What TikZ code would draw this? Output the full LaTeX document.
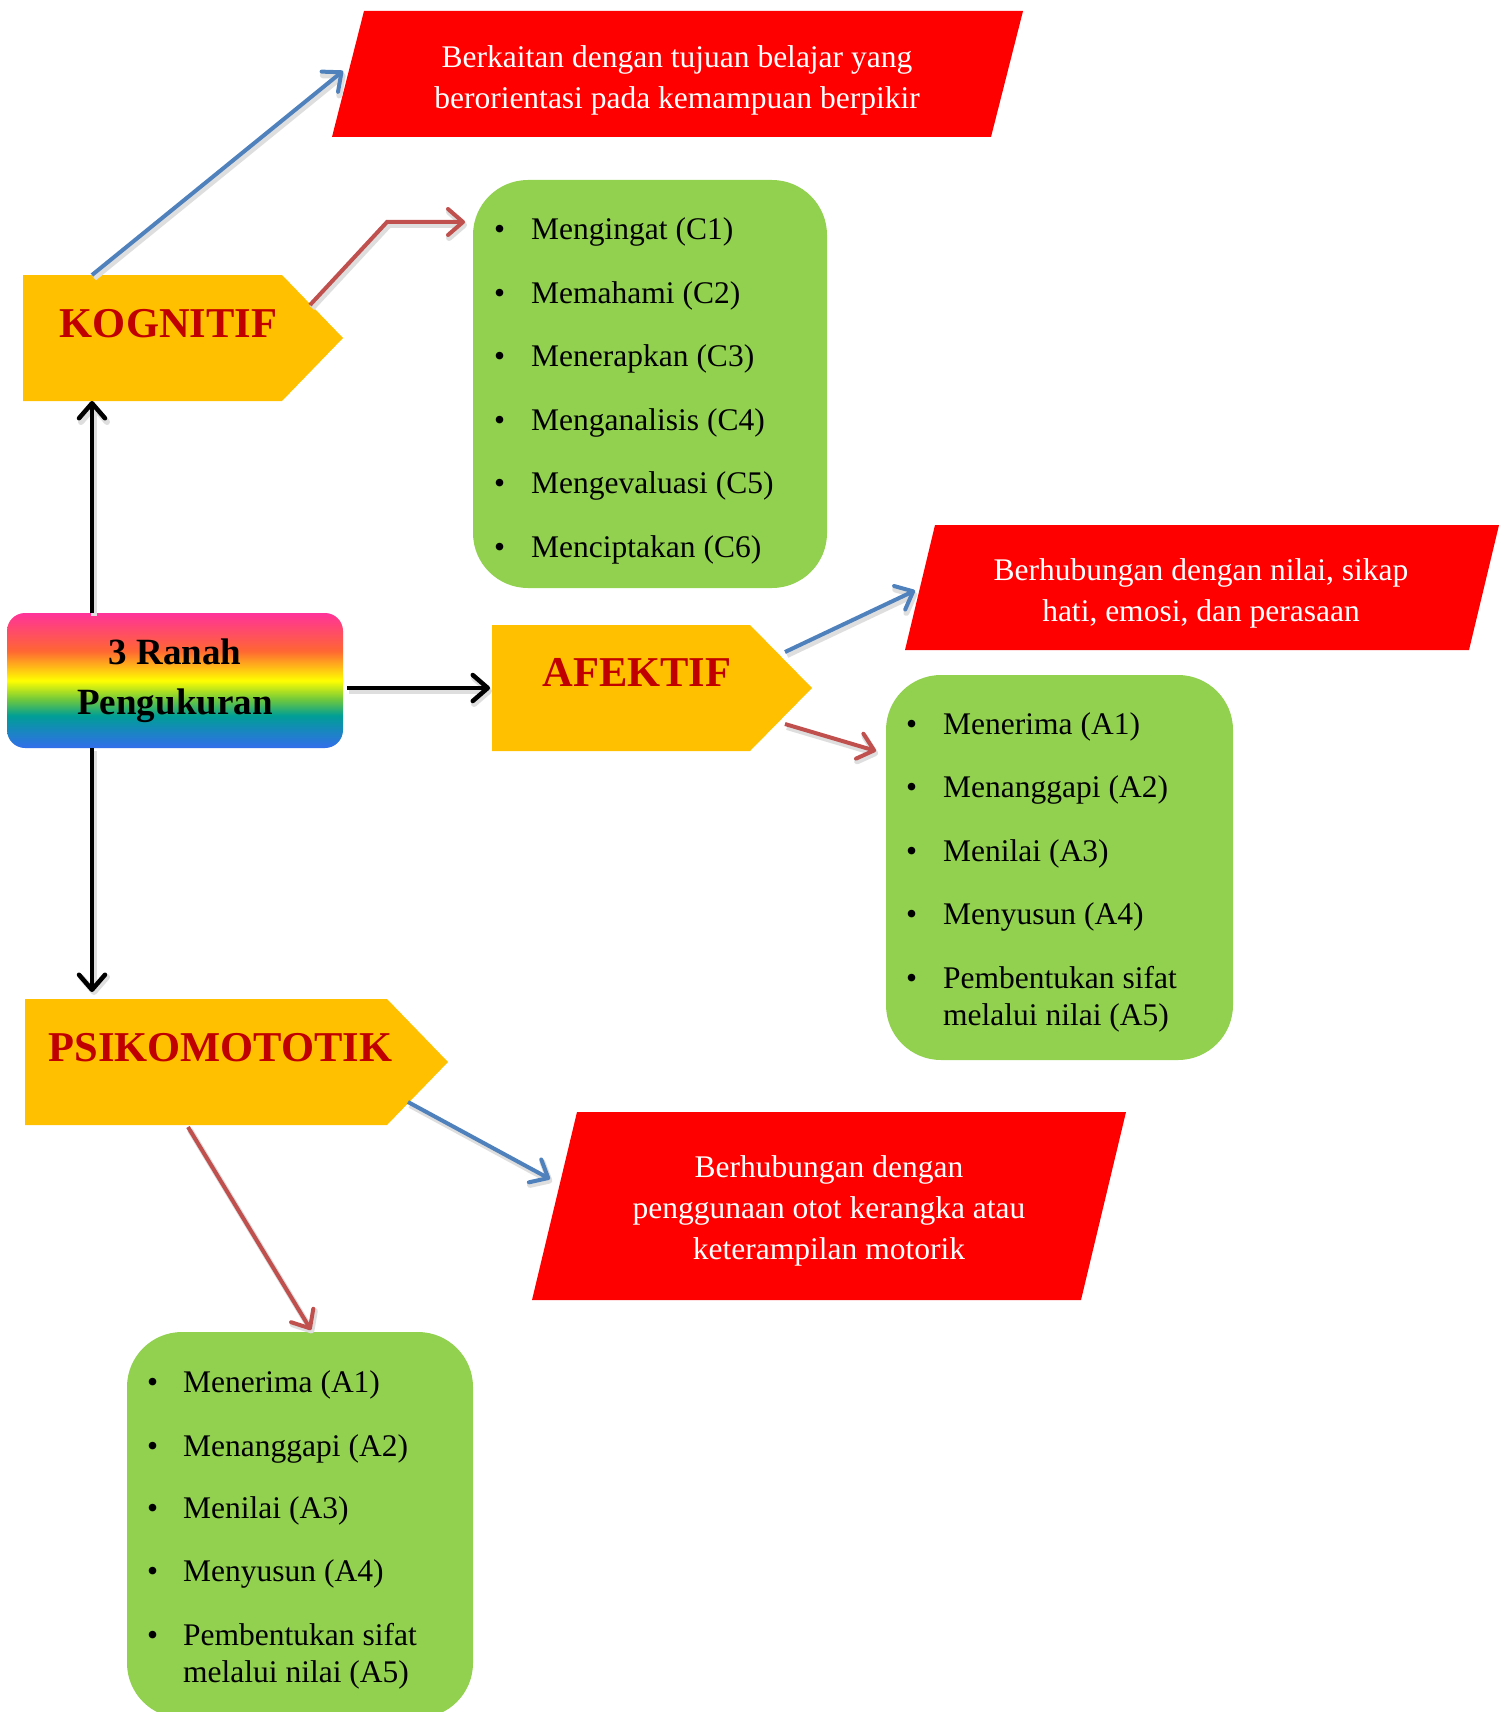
\documentclass[tikz,border=0pt]{standalone}
\usepackage{fontspec}
\setmainfont{Liberation Serif}
\usetikzlibrary{arrows.meta}
\definecolor{orY}{RGB}{255,192,0}
\definecolor{ttlRed}{RGB}{192,0,0}
\definecolor{redP}{RGB}{255,0,0}
\definecolor{greenB}{RGB}{146,208,80}
\definecolor{arBlue}{RGB}{79,129,189}
\definecolor{arRed}{RGB}{192,80,77}
\definecolor{rbPink}{RGB}{255,51,153}
\definecolor{rbOrange}{RGB}{255,102,51}
\definecolor{rbYellow}{RGB}{255,255,0}
\definecolor{rbGreen}{RGB}{110,200,60}
\definecolor{rbTeal}{RGB}{0,158,150}
\definecolor{rbBlue}{RGB}{50,110,235}
\newcommand\mybody{\fontsize{31.5}{41}\selectfont}
\newcommand\mytitle{\fontsize{42.5}{50}\selectfont\bfseries}
\newcommand\myrb{\fontsize{37}{50}\selectfont\bfseries}
\pgfdeclareverticalshading{rainbowsh}{100bp}{color(0bp)=(rbBlue); color(25bp)=(rbBlue); color(30bp)=(rbBlue!60!rbTeal); color(37bp)=(rbTeal); color(43bp)=(rbGreen); color(50bp)=(rbYellow); color(61bp)=(rbOrange); color(75bp)=(rbPink); color(100bp)=(rbPink)}
\begin{document}
\begin{tikzpicture}[x=1pt,y=-1pt,
  bodyn/.style={inner sep=0pt, outer sep=0pt},
  gbox/.style={bodyn, fill=greenB, rounded corners=55pt},
  item/.style={anchor=base west, inner sep=0pt, font=\mybody, text=black},
  ttl/.style={anchor=base, inner sep=0pt, font=\mytitle, text=ttlRed},
  ptext/.style={align=center, font=\mybody, text=white, inner sep=0pt},
  arr/.style={line width=4pt, -{Straight Barb[length=15pt,width=26pt,round]}},
  shadowed/.style={preaction={draw=black!13, line width=6pt, transform canvas={shift={(2pt,-3pt)}}}},
  blueA/.style={arr, shadowed, draw=arBlue},
  redA/.style={arr, shadowed, draw=arRed},
  blackA/.style={arr, line width=4.5pt, shadowed, draw=black}]
\useasboundingbox (0,0) rectangle (1507,1712);
\clip (0,0) rectangle (1507,1712);

% green boxes
\node[gbox, minimum width=354pt, minimum height=408pt] (c1) at (650,384) {};
\node[gbox, minimum width=347pt, minimum height=385pt] (c2) at (1059.5,867.5) {};
\node[gbox, minimum width=346pt, minimum height=386pt] (c3) at (300,1525) {};

% rainbow box
\node[bodyn, minimum width=336pt, minimum height=135pt, rounded corners=18pt,
  shading=rainbowsh, align=center, font=\myrb, text=black] (rb) at (175,680.5)
  {3 Ranah\\Pengukuran};

% pentagon bodies
\node[bodyn, minimum width=259pt, minimum height=126pt] (kog) at (152.5,338) {};
\node[bodyn, minimum width=258pt, minimum height=126pt] (afe) at (621,688) {};
\node[bodyn, minimum width=362pt, minimum height=126pt] (psi) at (206,1062) {};
\fill[orY] (kog.north west) -- (kog.north east) -- ([shift={(61,0)}]kog.east) -- (kog.south east) -- (kog.south west) -- cycle;
\fill[orY] (afe.north west) -- (afe.north east) -- ([shift={(62,0)}]afe.east) -- (afe.south east) -- (afe.south west) -- cycle;
\fill[orY] (psi.north west) -- (psi.north east) -- ([shift={(61,0)}]psi.east) -- (psi.south east) -- (psi.south west) -- cycle;

% parallelogram bodies
\node[bodyn, minimum width=659pt, minimum height=126pt] (pb1) at (677.5,74) {};
\node[bodyn, minimum width=564pt, minimum height=125pt] (pb2) at (1202,587.5) {};
\node[bodyn, minimum width=549pt, minimum height=188pt] (pb3) at (829,1206) {};
\fill[redP] ([shift={(16,0)}]pb1.north west) -- ([shift={(16,0)}]pb1.north east) -- ([shift={(-16,0)}]pb1.south east) -- ([shift={(-16,0)}]pb1.south west) -- cycle;
\fill[redP] ([shift={(15,0)}]pb2.north west) -- ([shift={(15,0)}]pb2.north east) -- ([shift={(-15,0)}]pb2.south east) -- ([shift={(-15,0)}]pb2.south west) -- cycle;
\fill[redP] ([shift={(22.5,0)}]pb3.north west) -- ([shift={(22.5,0)}]pb3.north east) -- ([shift={(-22.5,0)}]pb3.south east) -- ([shift={(-22.5,0)}]pb3.south west) -- cycle;

% titles
\node[ttl] (kogL) at (168.5,337) {KOGNITIF};
\node[ttl] (afeL) at (637,686) {AFEKTIF};
\node[ttl] (psiL) at (220.5,1061) {PSIKOMOTOTIK};

% parallelogram texts
\node[ptext] (p1t) at (677,80.5) {Berkaitan dengan tujuan belajar yang\\berorientasi pada kemampuan berpikir};
\node[ptext] (p2t) at (1201,593.5) {Berhubungan dengan nilai, sikap\\hati, emosi, dan perasaan};
\node[ptext] (p3t) at (829,1211) {Berhubungan dengan\\penggunaan otot kerangka atau\\keterampilan motorik};

% list C
\node[item] (c1a) at (494,240) {\makebox[37pt][l]{\textbullet}Mengingat (C1)};
\node[item] (c1b) at (494,303.4) {\makebox[37pt][l]{\textbullet}Memahami (C2)};
\node[item] (c1c) at (494,366.8) {\makebox[37pt][l]{\textbullet}Menerapkan (C3)};
\node[item] (c1d) at (494,430.2) {\makebox[37pt][l]{\textbullet}Menganalisis (C4)};
\node[item] (c1e) at (494,493.6) {\makebox[37pt][l]{\textbullet}Mengevaluasi (C5)};
\node[item] (c1f) at (494,557) {\makebox[37pt][l]{\textbullet}Menciptakan (C6)};

% list A (afektif)
\node[item] (c2a) at (906,734) {\makebox[37pt][l]{\textbullet}Menerima (A1)};
\node[item] (c2b) at (906,797) {\makebox[37pt][l]{\textbullet}Menanggapi (A2)};
\node[item] (c2c) at (906,861) {\makebox[37pt][l]{\textbullet}Menilai (A3)};
\node[item] (c2d) at (906,924) {\makebox[37pt][l]{\textbullet}Menyusun (A4)};
\node[item] (c2e) at (906,988) {\makebox[37pt][l]{\textbullet}Pembentukan sifat};
\node[item] (c2f) at (943,1025) {melalui nilai (A5)};

% list A (psikomotorik)
\node[item] (c3a) at (147,1392) {\makebox[36pt][l]{\textbullet}Menerima (A1)};
\node[item] (c3b) at (147,1456) {\makebox[36pt][l]{\textbullet}Menanggapi (A2)};
\node[item] (c3c) at (147,1518) {\makebox[36pt][l]{\textbullet}Menilai (A3)};
\node[item] (c3d) at (147,1581) {\makebox[36pt][l]{\textbullet}Menyusun (A4)};
\node[item] (c3e) at (147,1645) {\makebox[36pt][l]{\textbullet}Pembentukan sifat};
\node[item] (c3f) at (183,1682) {melalui nilai (A5)};

% connectors
\draw[blueA] ([shift={(69,0)}]kog.north west) -- ([shift={(-5,-3)}]pb1.west);
\draw[redA] ([shift={(28,30)}]kog.north east) -- ([shift={(-86,42)}]c1.north west) -- ([shift={(-8,42)}]c1.north west);
\draw[blackA] ([shift={(85,0)}]rb.north west) -- ([shift={(69,0)}]kog.south west);
\draw[blackA] ([shift={(4,0)}]rb.east |- afe.west) -- ([shift={(-2,0)}]afe.west);
\draw[blackA] ([shift={(85,0)}]rb.south west) -- ([shift={(67,-7)}]psi.north west);
\draw[blueA] ([shift={(35,27)}]afe.north east) -- ([shift={(-5,3)}]pb2.west);
\draw[redA] ([shift={(35,-27)}]afe.south east) -- ([shift={(-10,76)}]c2.north west);
\draw[blueA] ([shift={(21,-23)}]psi.south east) -- ([shift={(-4.5,-27)}]pb3.west);
\draw[redA] ([shift={(163,2)}]psi.south west) -- ([shift={(184,-2)}]c3.north west);
\end{tikzpicture}
\end{document}
